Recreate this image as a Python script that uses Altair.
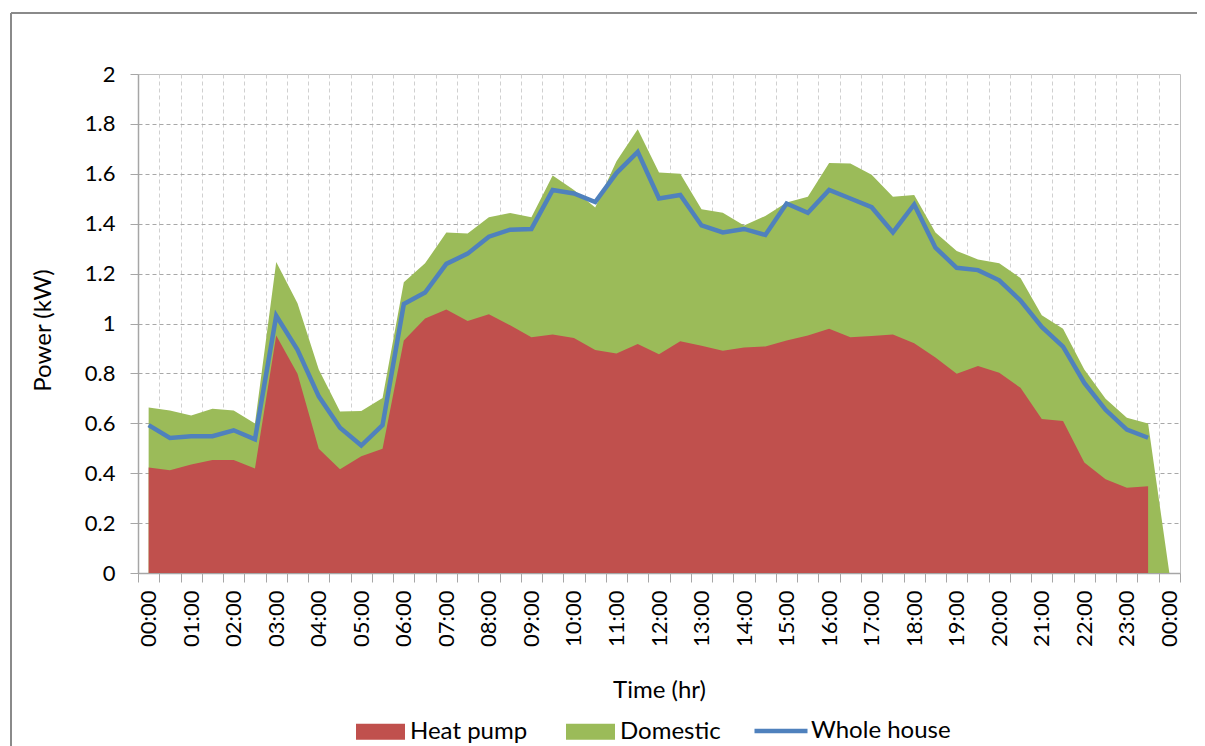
import json
import pandas as pd
import altair as alt

# ---- data (half-hour slots 00:00 .. 23:30, then 00:00) ----
hour_labels = ["00:00", "01:00", "02:00", "03:00", "04:00", "05:00", "06:00", "07:00",
               "08:00", "09:00", "10:00", "11:00", "12:00", "13:00", "14:00", "15:00",
               "16:00", "17:00", "18:00", "19:00", "20:00", "21:00", "22:00", "23:00",
               "00:00"]

heat_pump = [0.423, 0.412, 0.435, 0.453, 0.453, 0.419, 0.952, 0.799, 0.498, 0.416,
             0.468, 0.498, 0.932, 1.020, 1.056, 1.010, 1.037, 0.993, 0.945, 0.956,
             0.942, 0.894, 0.880, 0.918, 0.877, 0.929, 0.911, 0.891, 0.904, 0.908,
             0.932, 0.952, 0.979, 0.945, 0.950, 0.956, 0.921, 0.864, 0.799, 0.830,
             0.803, 0.742, 0.617, 0.609, 0.443, 0.376, 0.342, 0.348]

domestic = [0.240, 0.239, 0.196, 0.205, 0.198, 0.180, 0.294, 0.282, 0.318, 0.231,
            0.181, 0.203, 0.233, 0.221, 0.309, 0.351, 0.389, 0.450, 0.481, 0.637,
            0.593, 0.571, 0.770, 0.861, 0.728, 0.671, 0.547, 0.553, 0.489, 0.523,
            0.553, 0.556, 0.664, 0.696, 0.646, 0.552, 0.594, 0.501, 0.492, 0.427,
            0.438, 0.440, 0.416, 0.370, 0.373, 0.322, 0.280, 0.251, 0.0]

whole_house = [0.593, 0.541, 0.548, 0.548, 0.572, 0.536, 1.031, 0.895, 0.708, 0.582,
               0.511, 0.593, 1.078, 1.124, 1.239, 1.280, 1.348, 1.376, 1.379, 1.535,
               1.521, 1.487, 1.603, 1.688, 1.501, 1.515, 1.393, 1.365, 1.379, 1.355,
               1.481, 1.444, 1.535, 1.501, 1.466, 1.365, 1.477, 1.304, 1.223, 1.214,
               1.173, 1.092, 0.986, 0.907, 0.762, 0.654, 0.575, 0.542]

area_names = ["Heat pump", "Domestic"]
area_colors = ["#C0504D", "#9BBB59"]
line_names = ["Whole house"]
line_colors = ["#4F81BD"]
y_ticks = [0, 0.2, 0.4, 0.6, 0.8, 1, 1.2, 1.4, 1.6, 1.8, 2]

rows = []
for i in range(len(domestic)):
    hp = heat_pump[i] if i < len(heat_pump) else None
    wh = whole_house[i] if i < len(whole_house) else None
    rows.append({"slot": i, "heat": hp, "total": round((hp or 0) + domestic[i], 3), "whole": wh})
df = pd.DataFrame(rows)

n_slots = len(domestic)
x_vals = [k * 0.5 - 0.5 for k in range(2 * n_slots + 1)]

FONT = "Lato"
AXIS_GRAY = "#a6a6a6"

x_axis = alt.Axis(
    values=x_vals,
    labelExpr="datum.value % 2 === 0 ? " + json.dumps(hour_labels) + "[datum.value / 2] : ''",
    labelAngle=270, labelFontSize=22, labelFont=FONT, labelColor="black",
    labelOverlap=False, labelFlush=False, labelBound=False, labelPadding=8,
    tickSize=9, tickColor=AXIS_GRAY,
    tickOpacity={"condition": {"test": "datum.value % 1 === 0", "value": 0}, "value": 1},
    grid=True, gridColor="#d0d0d0", gridDash=[4, 3],
    gridOpacity={"condition": {"test": "datum.value % 1 === 0 || datum.value < 0 || datum.value > 48", "value": 0}, "value": 1},
    domainColor=AXIS_GRAY, domainWidth=1.5,
    title="Time (hr)", titleFont=FONT, titleFontSize=24, titleFontWeight="normal",
    titleColor="black", titleY=117, titleBaseline="middle",
)

y_axis = alt.Axis(
    values=y_ticks, format="~g",
    labelFontSize=22, labelFont=FONT, labelColor="black", labelPadding=15,
    tickSize=8, tickColor=AXIS_GRAY,
    grid=True, gridColor="#a8a8a8", gridDash=[4, 3],
    gridOpacity={"condition": {"test": "datum.value === 0 || datum.value === 2", "value": 0}, "value": 1},
    domainColor=AXIS_GRAY, domainWidth=1.5,
    title="Power (kW)", titleFont=FONT, titleFontSize=24, titleFontWeight="normal",
    titleColor="black", titleX=-95, titleY=256, titleAngle=270,
    titleAlign="center", titleBaseline="middle",
)

xenc = alt.X("slot:Q", scale=alt.Scale(domain=[-0.5, n_slots - 0.5], nice=False, zero=False), axis=x_axis)
yscale = alt.Scale(domain=[0, 2], nice=False)

area_legend = alt.Legend(
    title=None, orient="none", legendX=218, legendY=633, direction="horizontal", columns=2,
    symbolType="M-1,-0.33L1,-0.33L1,0.33L-1,0.33Z", symbolSize=2401,
    symbolStrokeWidth=0, symbolOpacity=1,
    labelFontSize=24, labelFont=FONT, labelColor="black",
    labelOffset=5, columnPadding=38, labelLimit=400,
)
line_legend = alt.Legend(
    title=None, orient="none", legendX=614, legendY=628, direction="horizontal",
    symbolType="stroke", symbolSize=2809, symbolStrokeWidth=4.5, symbolOpacity=1,
    labelFontSize=24, labelFont=FONT, labelColor="black",
    labelOffset=1, labelLimit=400,
)

green = alt.Chart(df).transform_calculate(series="'Domestic'").mark_area(opacity=1).encode(
    x=xenc,
    y=alt.Y("total:Q", scale=yscale, axis=y_axis),
    color=alt.Color("series:N", scale=alt.Scale(domain=area_names, range=area_colors), legend=area_legend),
)

red = alt.Chart(df).transform_calculate(series="'Heat pump'").mark_area(opacity=1).encode(
    x=xenc,
    y=alt.Y("heat:Q", scale=yscale),
    color=alt.Color("series:N"),
)

blue = alt.Chart(df).transform_calculate(line_series="'Whole house'").mark_line(strokeWidth=4.5).encode(
    x=xenc,
    y=alt.Y("whole:Q", scale=yscale),
    stroke=alt.Stroke("line_series:N", scale=alt.Scale(domain=line_names, range=line_colors), legend=line_legend),
)

frame_df = pd.DataFrame({"k": [0]})
frame_top = alt.Chart(frame_df).mark_rule(color="#8a8a8a", strokeWidth=2).encode(
    x=alt.value(-127), x2=alt.value(1062), y=alt.value(-61)
)
frame_left = alt.Chart(frame_df).mark_rule(color="#8a8a8a", strokeWidth=2).encode(
    x=alt.value(-127), y=alt.value(-61), y2=alt.value(680)
)

chart = (
    alt.layer(green, red, blue, frame_top, frame_left)
    .properties(
        width=1042, height=499,
        padding={"left": 130, "top": 66, "right": 17, "bottom": 173},
        autosize=alt.AutoSizeParams(type="none"),
    )
    .configure(font=FONT)
    .configure_view(stroke="#bfbfbf", strokeWidth=1)
)

chart.save("out.html", embed_options={"renderer": "svg", "actions": False})
